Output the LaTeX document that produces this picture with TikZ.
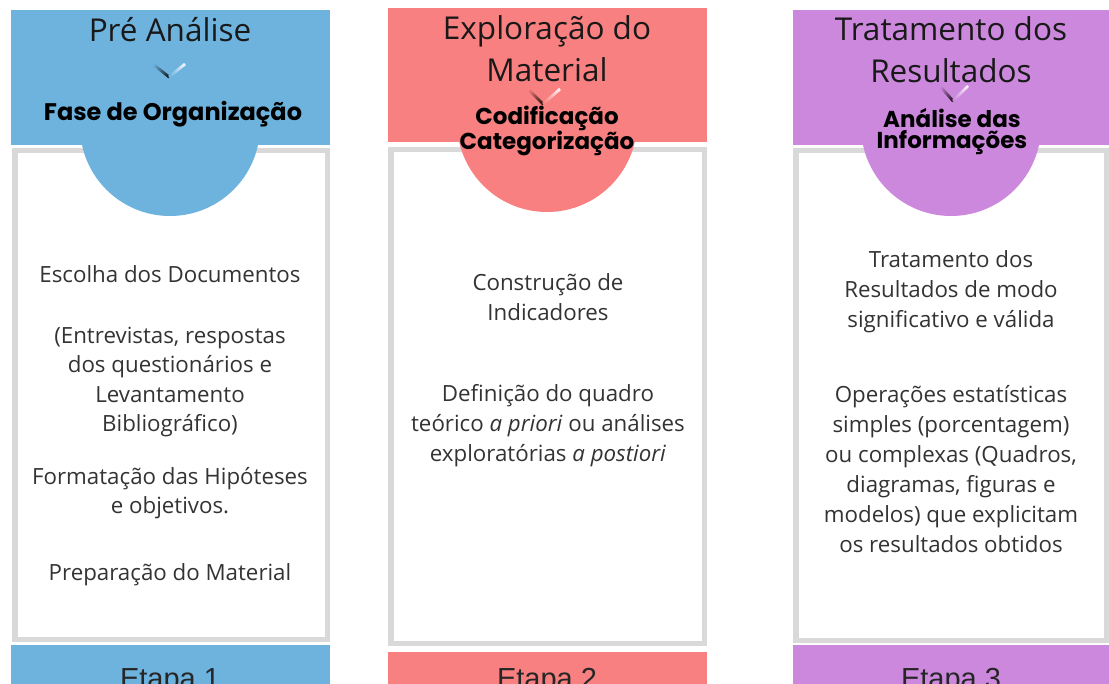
\documentclass[tikz,border=0pt]{standalone}
\usepackage{fontspec}
\setmainfont{Open Sans}
\newfontfamily\popb{Poppins}
\newfontfamily\arialf{Liberation Sans}
\usetikzlibrary{calc}
\definecolor{cblue}{HTML}{6DB3DE}
\definecolor{cred}{HTML}{F98080}
\definecolor{cpurp}{HTML}{CC88DD}
\definecolor{cgray}{HTML}{D9D9D9}
\definecolor{ctext}{HTML}{333333}
\tikzset{
  header/.style={fill=#1, draw=none},
  panel/.style={draw=cgray, line width=5.5pt, fill=white},
  cap/.style={fill=#1, draw=none},
  ttl/.style={align=center, font=\fontsize{31.5}{42}\selectfont, text=black!90, inner sep=0pt},
  lbl/.style={align=center, font=\popb\bfseries\fontsize{23}{21}\selectfont, text=black, inner sep=0pt},
  body/.style={align=center, font=\fontsize{22.3}{30}\selectfont, text=ctext, inner sep=0pt},
  etapa/.style={font=\arialf\fontsize{29}{32}\selectfont, text=black!85, anchor=base, inner sep=0pt},
}
\newcommand{\chev}[4]{% left, bottom, right, colour
  \foreach \t in {0,0.1,...,0.95}{
    \pgfmathsetmacro{\mix}{100-90*\t}
    \draw[line width=2.8pt, color=#4!\mix!black, line cap=butt]
      ($#1!\t!#2$) -- ($#1!{\t+0.12}!#2$);
  }
  \foreach \t in {0,0.1,...,0.95}{
    \pgfmathsetmacro{\mix}{100-95*\t}
    \draw[line width=2.8pt, color=#4!\mix!white, line cap=butt]
      ($#2!\t!#3$) -- ($#2!{min(\t+0.12,1)}!#3$);
  }
}
\begin{document}
\begin{tikzpicture}[x=1pt,y=-1pt]
\useasboundingbox (0,0) rectangle (1109,684);
\clip (0,0) rectangle (1109,684);
\fill[white] (0,0) rectangle (1109,684);

% ---------- Column 1 ----------
\draw[panel] (14.75,150.75) rectangle (327.25,639.25);
\fill[cblue] (170,126) circle (90);
\fill[header=cblue] (11,10) rectangle (330,145);
\fill[cap=cblue] (11,645) rectangle (330,700);
\node[ttl] (t1) at (170,30) {Pré Análise};
\chev{(153,64)}{(169,77)}{(185,64)}{cblue}
\node[lbl, font=\popb\bfseries\fontsize{24}{20}\selectfont] (l1) at (173,114) {Fase de Organização};
\node[body] (b1a) at (170,274) {Escolha dos Documentos};
\node[body, font=\fontsize{22.3}{29.2}\selectfont] (b1b) at (170,382) {(Entrevistas, respostas\\dos questionários e\\Levantamento\\Bibliográfico)};
\node[body, font=\fontsize{22.3}{29.2}\selectfont] (b1c) at (170,493) {Formatação das Hipóteses\\e objetivos.};
\node[body] (b1d) at (170,575) {Preparação do Material};
\node[etapa] (e1) at (170,688) {Etapa 1};

% ---------- Column 2 ----------
\draw[panel] (390.75,149.75) rectangle (704.25,643.25);
\fill[cred] (547,122) circle (90);
\fill[header=cred] (388,8) rectangle (707,142);
\fill[cap=cred] (388,652) rectangle (707,700);
\node[ttl] (t2) at (547,49) {Exploração do\\Material};
\chev{(528,89)}{(543,104)}{(560,89)}{cred}
\node[lbl, font=\popb\bfseries\fontsize{23}{20}\selectfont] (l2) at (547,131) {Codificação\\Categorização};
\node[body] (b2a) at (548,297) {Construção de\\Indicadores};
\node[body] (b2b) at (548,426) {Definição do quadro\\teórico \textit{a priori} ou análises\\exploratórias \textit{a postiori}};
\node[etapa] (e2) at (547,688) {Etapa 2};

% ---------- Column 3 ----------
\draw[panel] (795.75,150.75) rectangle (1106.25,640.25);
\fill[cpurp] (951,126) circle (90);
\fill[header=cpurp] (793,10) rectangle (1112,145);
\fill[cap=cpurp] (793,645) rectangle (1112,700);
\node[ttl] (t3) at (951,50) {Tratamento dos\\Resultados};
\chev{(940,86)}{(953,101)}{(968,86)}{cpurp}
\node[lbl] (l3) at (952,132) {Análise das\\Informações};
\node[body] (b3a) at (951,292) {Tratamento dos\\Resultados de modo\\significativo e válida};
\node[body] (b3b) at (951,469) {Operações estatísticas\\simples (porcentagem)\\ou complexas (Quadros,\\diagramas, figuras e\\modelos) que explicitam\\os resultados obtidos};
\node[etapa] (e3) at (951,688) {Etapa 3};
\end{tikzpicture}
\end{document}
